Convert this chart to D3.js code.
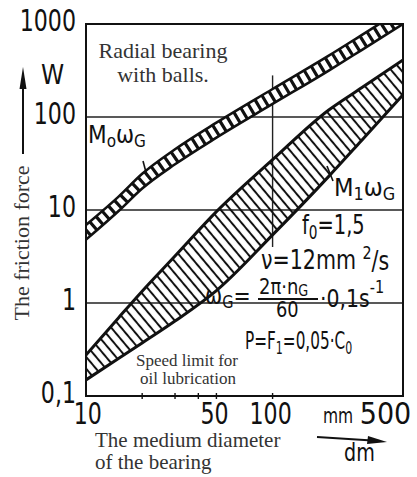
<!DOCTYPE html>
<meta charset="utf-8">
<body style="margin:0;background:#fff">
<div class="chart"></div>
<script src="https://d3js.org/d3.v7.min.js"></script>
<script>
// bearing diameter dm (mm) where the band edges were read
const diameters = [10, 15, 20, 30, 50, 100, 200, 300, 500];
// M0 wG band (narrow ladder band), friction power in W
const m0Lower = [4.8, 9.8, 17, 31, 60, 138, 316, 525, 1000];
const m0Upper = [6.9, 14, 24.5, 45, 87, 200, 457, 760, 1445];
// M1 wG band (hatched)
const m1Upper = [0.276, 0.70, 1.34, 3.2, 9.6, 34.8, 119, 206, 410];
const m1Lower = [0.149, 0.255, 0.372, 0.64, 1.36, 5.4, 23, 56, 173];
// axes
const yTicks = [0.1, 1, 10, 100, 1000];
const yGrid = [1, 10, 100];
const xTicks = [10, 50, 100, 500];
const xMinor = [20, 30, 40, 50, 100];

const W = 417, H = 477;
const margin = {top: 24, right: 14, bottom: 81, left: 86};
const hand = '"Liberation Sans Narrow", "DejaVu Sans Condensed", sans-serif';
const serif = '"Liberation Serif", "Times New Roman", serif';
const ink = "#111";

const svg = d3.select(".chart").append("svg")
    .attr("width", W).attr("height", H)
    .style("display", "block");

const x = d3.scaleLog().domain([10, 500]).range([margin.left, W - margin.right]);
const y = d3.scaleLog().domain([0.1, 1000]).range([H - margin.bottom, margin.top]);

const defs = svg.append("defs");
defs.append("clipPath").attr("id", "plot")
    .append("rect")
    .attr("x", x.range()[0]).attr("y", y.range()[1])
    .attr("width", x.range()[1] - x.range()[0])
    .attr("height", y.range()[0] - y.range()[1]);

const hatch = defs.append("pattern")
    .attr("id", "hatch")
    .attr("patternUnits", "userSpaceOnUse")
    .attr("width", 7.6).attr("height", 7.6)
    .attr("patternTransform", "rotate(-40)");
hatch.append("line")
    .attr("x1", 3.8).attr("y1", -1).attr("x2", 3.8).attr("y2", 9)
    .attr("stroke", ink).attr("stroke-width", 2);

// grid
const grid = svg.append("g").attr("stroke", "#222").attr("stroke-width", 1.4);
grid.selectAll("line.h")
    .data(yGrid)
    .join("line")
    .attr("class", "h")
    .attr("x1", x.range()[0]).attr("x2", x.range()[1])
    .attr("y1", d => y(d)).attr("y2", d => y(d));
// partial vertical line at dm = 100
grid.append("line")
    .attr("x1", x(100)).attr("x2", x(100))
    .attr("y1", y(280)).attr("y2", y(4));

const plot = svg.append("g").attr("clip-path", "url(#plot)");

const bandArea = (lo, hi) => d3.area()
    .curve(d3.curveMonotoneX)
    .x((d, i) => x(diameters[i]))
    .y0((d, i) => y(lo[i]))
    .y1((d, i) => y(hi[i]))(diameters);

const edge = vals => d3.line()
    .curve(d3.curveMonotoneX)
    .x((d, i) => x(diameters[i]))
    .y((d, i) => y(vals[i]))(diameters);

// M1 band: hatched
plot.append("path")
    .attr("d", bandArea(m1Lower, m1Upper))
    .attr("fill", "url(#hatch)");
[m1Lower, m1Upper].forEach(v => {
    plot.append("path").attr("d", edge(v))
        .attr("fill", "none").attr("stroke", ink).attr("stroke-width", 3);
});

// M0 band: ladder
const m0Mid = m0Lower.map((v, i) => Math.sqrt(v * m0Upper[i]));
plot.append("path")
    .attr("d", bandArea(m0Lower, m0Upper))
    .attr("fill", "#fff");
plot.append("path")
    .attr("d", edge(m0Mid))
    .attr("fill", "none").attr("stroke", ink)
    .attr("stroke-width", 12).attr("stroke-dasharray", "3.2,5");
[m0Lower, m0Upper].forEach(v => {
    plot.append("path").attr("d", edge(v))
        .attr("fill", "none").attr("stroke", ink).attr("stroke-width", 2.6);
});

// frame
svg.append("rect")
    .attr("x", x.range()[0]).attr("y", y.range()[1])
    .attr("width", x.range()[1] - x.range()[0])
    .attr("height", y.range()[0] - y.range()[1])
    .attr("fill", "none").attr("stroke", ink).attr("stroke-width", 2);

// minor ticks on dm axis
svg.append("g").selectAll("line")
    .data(xMinor)
    .join("line")
    .attr("x1", d => x(d)).attr("x2", d => x(d))
    .attr("y1", y.range()[0] - 3).attr("y2", y.range()[0] + 3)
    .attr("stroke", ink).attr("stroke-width", 1.4);

// axes (hand lettering is narrow, so the tick labels are squeezed)
const sq = 0.82;
const yAxis = svg.append("g")
    .attr("transform", `translate(${margin.left},0)`)
    .call(d3.axisLeft(y).tickValues(yTicks).tickSize(0).tickPadding(10)
        .tickFormat(d => String(d).replace(".", ",")));
yAxis.select(".domain").remove();
yAxis.selectAll("text")
    .attr("x", -10 / sq)
    .attr("dy", "0.2em")
    .attr("transform", `scale(${sq},1)`)
    .style("font-family", hand).style("font-size", "30px").attr("fill", ink);

const xAxis = svg.append("g")
    .attr("transform", `translate(0,${H - margin.bottom})`)
    .call(d3.axisBottom(x).tickValues(xTicks).tickSize(0).tickPadding(7)
        .tickFormat(d3.format("d")));
xAxis.select(".domain").remove();
xAxis.selectAll("text")
    .style("font-family", hand).style("font-size", "30px").attr("fill", ink)
    .attr("dx", d => d === 500 ? "-0.6em" : (d === 10 ? "0.05em" : "-0.1em"))
    .attr("transform", d => d === 500 ? null : `scale(${sq},1)`);

svg.append("text")
    .attr("transform", "translate(323,423) scale(0.82,1)")
    .style("font-family", hand).style("font-size", "21px").attr("fill", ink)
    .text("mm");

// axis titles
svg.append("text")
    .attr("transform", "translate(29,243) rotate(-90)")
    .attr("text-anchor", "middle")
    .style("font-family", serif).style("font-size", "22px").attr("fill", "#333")
    .text("The friction force");
svg.append("line")
    .attr("x1", 23).attr("x2", 23).attr("y1", 154).attr("y2", 80)
    .attr("stroke", ink).attr("stroke-width", 2);
svg.append("path")
    .attr("d", "M23,67 L19.5,89 L26.5,89 Z")
    .attr("fill", ink);
svg.append("text")
    .attr("x", 41).attr("y", 84)
    .style("font-family", hand).style("font-size", "26px").attr("fill", ink)
    .text("W");

const xTitle = svg.append("text")
    .style("font-family", serif).style("font-size", "21px").attr("fill", "#333");
xTitle.append("tspan").attr("x", 95).attr("y", 447).text("The medium diameter");
xTitle.append("tspan").attr("x", 95).attr("y", 469).text("of the bearing");

svg.append("line")
    .attr("x1", 317).attr("y1", 437).attr("x2", 380).attr("y2", 441)
    .attr("stroke", ink).attr("stroke-width", 2);
svg.append("path")
    .attr("d", "M387,442 L368,436 L367,444 Z")
    .attr("fill", ink);
svg.append("text")
    .attr("transform", "translate(344,461) scale(0.85,1)")
    .style("font-family", hand).style("font-size", "25px").attr("fill", ink)
    .text("dm");

// annotations
const title = svg.append("text")
    .attr("text-anchor", "middle")
    .style("font-family", serif).style("font-size", "22px").attr("fill", "#333");
title.append("tspan").attr("x", 163).attr("y", 58).text("Radial bearing");
title.append("tspan").attr("x", 163).attr("y", 82).text("with balls.");

// hand-lettered formula, squeezed horizontally by sx
function label(px, py, parts, size, sx) {
    const t = svg.append("text")
        .attr("transform", `translate(${px},${py}) scale(${sx || 1},1)`)
        .style("font-family", hand).style("font-size", size + "px").attr("fill", ink);
    parts.forEach(p => {
        const s = t.append("tspan").text(p.t);
        if (p.sub) s.attr("dy", p.sub).style("font-size", Math.round(size * 0.7) + "px");
        if (p.back) s.attr("dy", p.back);
    });
    return t;
}

label(88, 143, [{t: "M"}, {t: "o", sub: "0.25em"}, {t: "ω", back: "-0.18em"}, {t: "G", sub: "0.25em"}], 24, 1);
svg.append("line").attr("x1", 143).attr("y1", 161).attr("x2", 147).attr("y2", 176)
    .attr("stroke", ink).attr("stroke-width", 1.6);

label(334, 196, [{t: "M"}, {t: "1", sub: "0.25em"}, {t: "ω", back: "-0.18em"}, {t: "G", sub: "0.25em"}], 24, 1.05);
svg.append("line").attr("x1", 327).attr("y1", 166).attr("x2", 333).attr("y2", 181)
    .attr("stroke", ink).attr("stroke-width", 1.6);

label(302, 234, [{t: "f"}, {t: "0", sub: "0.25em"}, {t: "=1,5", back: "-0.18em"}], 27, 0.8);
label(261, 269, [{t: "ν=12mm "}, {t: "2", sub: "-0.55em"}, {t: "/s", back: "0.4em"}], 26, 0.88);

label(205, 304, [{t: "ω"}, {t: "G", sub: "0.25em"}, {t: "=", back: "-0.18em"}], 24, 0.95);
label(259, 294, [{t: "2π·n"}, {t: "G", sub: "0.15em"}], 21, 0.95);
svg.append("line").attr("x1", 258).attr("x2", 318).attr("y1", 299).attr("y2", 299)
    .attr("stroke", ink).attr("stroke-width", 1.8);
label(276, 317, [{t: "60"}], 22, 0.9);
label(320, 307, [{t: "·0,1s"}, {t: "-1", sub: "-0.8em"}], 24, 0.95);

label(245, 349, [{t: "P=F"}, {t: "1", sub: "0.25em"}, {t: "=0,05·C", back: "-0.18em"}, {t: "0", sub: "0.25em"}], 25, 0.68);

const speed = svg.append("text")
    .attr("text-anchor", "middle")
    .style("font-family", serif).style("font-size", "17px").attr("fill", "#333");
speed.append("tspan").attr("x", 187).attr("y", 366).text("Speed limit for");
speed.append("tspan").attr("x", 188).attr("y", 384).text("oil lubrication");
</script>
</body>
